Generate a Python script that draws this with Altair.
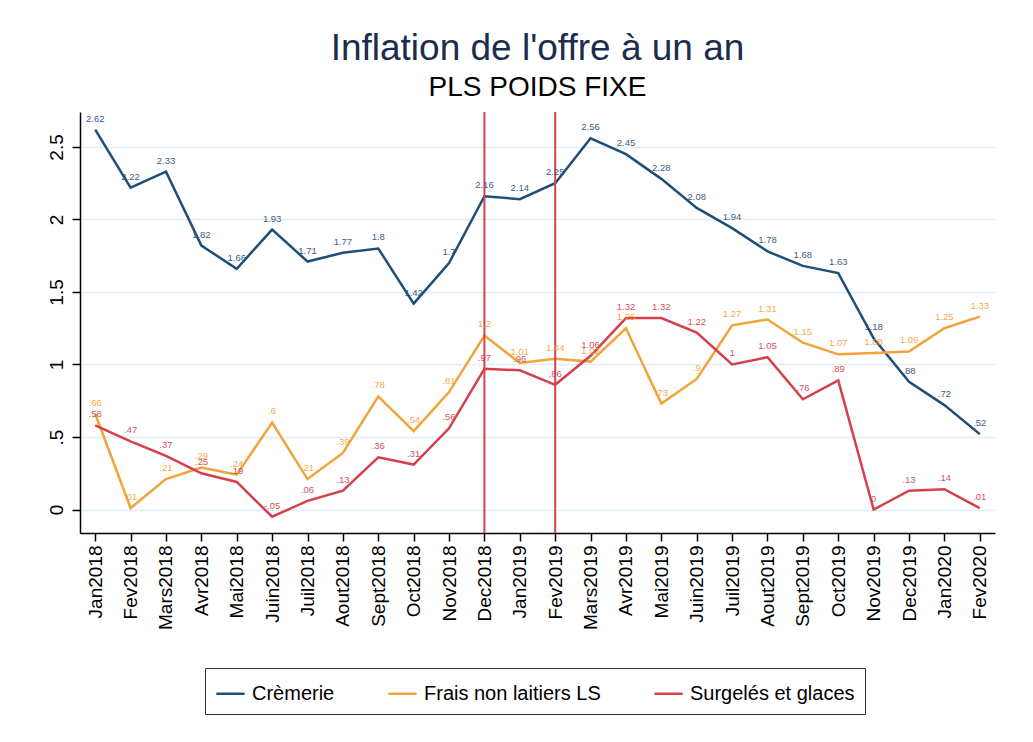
import altair as alt
import pandas as pd

months = ["Jan2018", "Fev2018", "Mars2018", "Avr2018", "Mai2018", "Juin2018", "Juil2018",
          "Aout2018", "Sept2018", "Oct2018", "Nov2018", "Dec2018", "Jan2019", "Fev2019",
          "Mars2019", "Avr2019", "Mai2019", "Juin2019", "Juil2019", "Aout2019", "Sept2019",
          "Oct2019", "Nov2019", "Dec2019", "Jan2020", "Fev2020"]

cremerie = [2.62, 2.22, 2.33, 1.82, 1.66, 1.93, 1.71, 1.77, 1.8, 1.42, 1.7, 2.16, 2.14,
            2.25, 2.56, 2.45, 2.28, 2.08, 1.94, 1.78, 1.68, 1.63, 1.18, .88, .72, .52]
frais = [.66, .01, .21, .29, .24, .6, .21, .39, .78, .54, .81, 1.2, 1.01, 1.04, 1.02,
         1.25, .73, .9, 1.27, 1.31, 1.15, 1.07, 1.08, 1.09, 1.25, 1.33]
surgeles = [.58, .47, .37, .25, .19, -.05, .06, .13, .36, .31, .56, .97, .96, .86, 1.06,
            1.32, 1.32, 1.22, 1.0, 1.05, .76, .89, 0.0, .13, .14, .01]

series_names = ["Crèmerie", "Frais non laitiers LS", "Surgelés et glaces"]
series_colors = ["#1f4e79", "#f2a33a", "#d5404c"]
vlines = ["Dec2018", "Fev2019"]


def stata_fmt(v):
    s = f"{v:g}"
    if s.startswith("0."):
        s = s[1:]
    elif s.startswith("-0."):
        s = "-" + s[2:]
    return s


rows = []
for name, vals in zip(series_names, [cremerie, frais, surgeles]):
    for m, v in zip(months, vals):
        rows.append({"month": m, "series": name, "value": v, "label": stata_fmt(v)})
df = pd.DataFrame(rows)
vdf = pd.DataFrame({"month": vlines})

FONT = "Liberation Sans, Arial, sans-serif"

xenc = alt.X("month:N", sort=months, title=None,
             scale=alt.Scale(type="point", padding=0.43),
             axis=alt.Axis(labelAngle=270, labelFontSize=19, labelColor="black",
                           labelFont=FONT,
                           domainColor="black", domainWidth=1.5, tickColor="black",
                           tickSize=8, tickWidth=1.5, labelPadding=4, grid=False))
yscale = alt.Scale(domain=[-0.162, 2.741], nice=False, zero=False)
yenc = alt.Y("value:Q", title=None, scale=yscale,
             axis=alt.Axis(values=[0, 0.5, 1, 1.5, 2, 2.5], labelAngle=270,
                           labelExpr="datum.value == 0.5 ? '.5' : format(datum.value, '~g')",
                           labelFontSize=19, labelFont=FONT, labelColor="black",
                           domainColor="black",
                           domainWidth=1.5, tickColor="black", tickSize=8, tickWidth=1.5,
                           labelPadding=6, grid=True, gridColor="#e2edf6", gridWidth=1.5))
color = alt.Color("series:N", sort=series_names,
                  scale=alt.Scale(domain=series_names, range=series_colors),
                  legend=alt.Legend(title=None, orient="none", legendX=125, legendY=556,
                                    direction="horizontal", columns=3, symbolType="stroke",
                                    symbolSize=800, symbolStrokeWidth=2.5,
                                    labelFontSize=20, labelFont=FONT, labelColor="black",
                                    labelLimit=0,
                                    strokeColor="#333333", padding=10, columnPadding=48,
                                    labelOffset=6))

lines = alt.Chart(df).mark_line(strokeWidth=2.5).encode(x=xenc, y=yenc, color=color)
labels = alt.Chart(df).mark_text(dy=-11, fontSize=9.5, font=FONT, opacity=0.9).encode(
    x=alt.X("month:N", sort=months), y=alt.Y("value:Q"), text="label:N",
    color=alt.Color("series:N", sort=series_names, legend=None,
                    scale=alt.Scale(domain=series_names, range=series_colors)))
rules = alt.Chart(vdf).mark_rule(color="#d0454c", strokeWidth=2).encode(
    x=alt.X("month:N", sort=months))

chart = alt.layer(lines, rules, labels).properties(
    width=915, height=421,
    background="white",
    autosize=alt.AutoSizeParams(type="none"),
    padding={"left": 72, "top": 104, "right": 30, "bottom": 200},
    title=alt.TitleParams(text="Inflation de l'offre à un an", subtitle="PLS POIDS FIXE",
                          fontSize=37, font=FONT, fontWeight="normal", color="#1c2c4e",
                          subtitleFontSize=28, subtitleFont=FONT, subtitleColor="black",
                          anchor="middle", offset=8, subtitlePadding=6),
).configure_view(stroke=None)

chart.save("out.html", embed_options={"renderer": "svg", "actions": False})
